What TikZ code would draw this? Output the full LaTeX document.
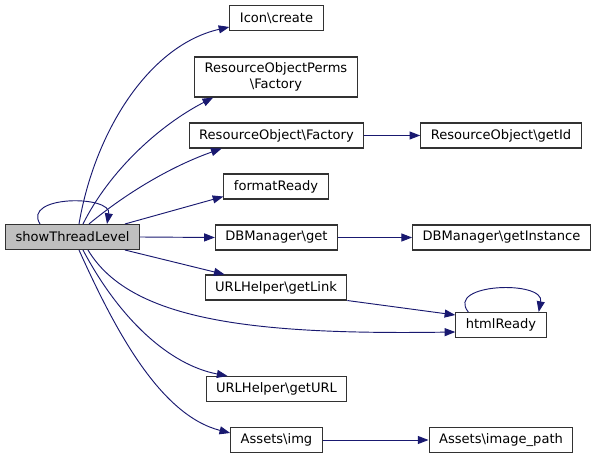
\documentclass[tikz,border=0pt]{standalone}
\usepackage{fontspec}
\setmainfont{DejaVu Sans}
\usetikzlibrary{arrows.meta,calc}
\definecolor{callblue}{RGB}{25,25,112}
\definecolor{boxline}{RGB}{50,50,50}

\begin{document}
\begin{tikzpicture}[x=0.75pt,y=-0.75pt,font=\fontsize{9.8pt}{11.5pt}\selectfont,
  >={Triangle[length=8pt,width=6pt]},
  fn/.style={draw=boxline,fill=white,line width=0.8pt,inner xsep=7.5pt,
    inner ysep=2pt,minimum height=18.75pt,align=center},
  call/.style={->,callblue,line width=0.7pt}]
\useasboundingbox (0,0) rectangle (596,459);
% caller
\node[fn,fill=gray!50] (stl) at (72.5,237) {showThreadLevel};
% direct callees
\node[fn] (icon) at (276.5,18) {Icon\textbackslash create};
\node[fn,minimum height=30pt] (perms) at (276,77) {ResourceObjectPerms\\\textbackslash Factory};
\node[fn] (rofac) at (276.5,135.5) {ResourceObject\textbackslash Factory};
\node[fn] (fmt) at (276,186.5) {formatReady};
\node[fn] (dbget) at (276.5,237.5) {DBManager\textbackslash get};
\node[fn] (getlink) at (276,287.5) {URLHelper\textbackslash getLink};
\node[fn] (geturl) at (276.5,389) {URLHelper\textbackslash getURL};
\node[fn] (img) at (276.5,440) {Assets\textbackslash img};
% second level
\node[fn] (getid) at (501,135.5) {ResourceObject\textbackslash getId};
\node[fn] (dbinst) at (501.5,237.5) {DBManager\textbackslash getInstance};
\node[fn] (html) at (501,325) {htmlReady};
\node[fn] (imgpath) at (501,440) {Assets\textbackslash image\_path};
% calls going up
\draw[call] ($(stl.north)+(6.5,0)$) .. controls (95,130) and (150,45) .. ($(icon.west)+(0,9)$);
\draw[call] ($(stl.north)+(10.5,0)$) .. controls (110,170) and (160,125) .. ($(perms.south west)+(19,0)$);
\draw[call] ($(stl.north)+(16.5,0)$) .. controls (130,190) and (175,165) .. ($(rofac.south west)+(33,0)$);
\draw[call] ($(stl.north)+(-32.5,0)$) .. controls (22,195) and (112,195) .. ($(stl.north)+(34.5,0)$);
\draw[call] ($(stl.north)+(52.5,0)$) -- ($(fmt.south west)+(0,-3)$);
\draw[call] (stl.east) -- (dbget.west);
% calls going down
\draw[call] ($(stl.south)+(52.5,0)$) -- ($(getlink.north west)+(20,0)$);
\draw[call] ($(stl.south)+(15.5,0)$) .. controls (130,320) and (250,335) .. ($(html.west)+(0,7)$);
\draw[call] ($(stl.south)+(10.5,0)$) .. controls (120,320) and (170,365) .. ($(geturl.north west)+(22,0)$);
\draw[call] ($(stl.south)+(6.5,0)$) .. controls (115,330) and (160,415) .. ($(img.west)+(0,-7)$);
% second level calls
\draw[call] (rofac.east) -- (getid.west);
\draw[call] (dbget.east) -- (dbinst.west);
\draw[call] (getlink.south east) -- ($(html.west)+(0,-10)$);
\draw[call] ($(html.north west)+(13,0)$) .. controls (445,283) and (545,280) .. ($(html.north east)+(-8,0)$);
\draw[call] (img.east) -- (imgpath.west);
\end{tikzpicture}
\end{document}
